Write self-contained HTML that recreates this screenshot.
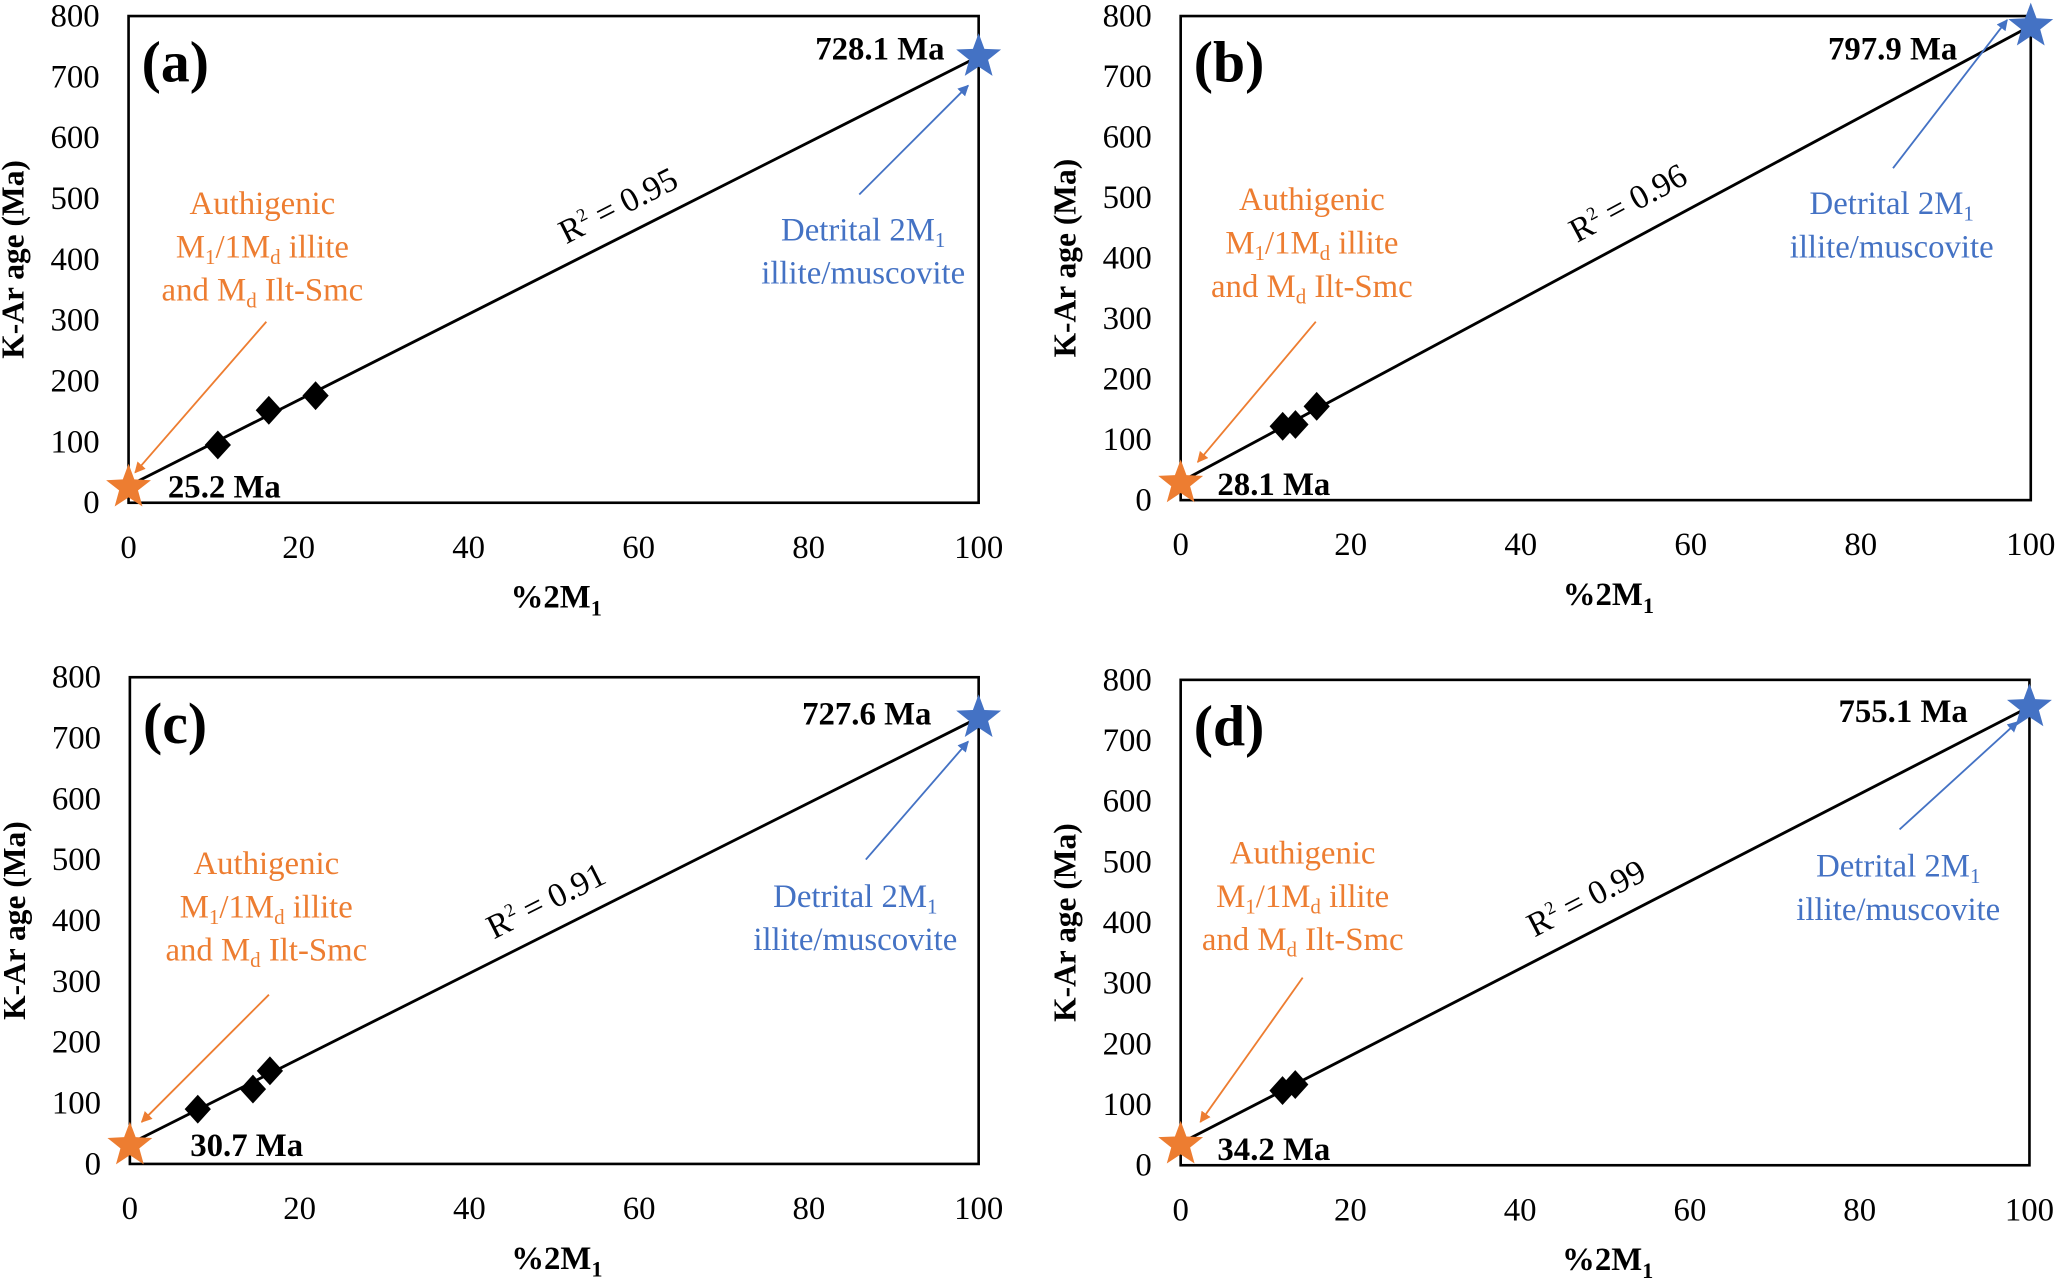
<!DOCTYPE html>
<html><head><meta charset="utf-8"><style>
html,body{margin:0;padding:0;background:#fff;}
svg{display:block;font-family:"Liberation Serif",serif;}
</style></head><body>
<svg id="fig" width="2057" height="1281" viewBox="0 0 1568 976" xmlns="http://www.w3.org/2000/svg"></svg>
<script>
const panelLetters = ["(a)","(b)","(c)","(d)"];
const pointsX = [[10.5,16.5,22],[12,13.5,16],[8,14.5,16.5],[12,13.5]];
const pointsY = [[95,152,176],[122,125,155],[90,123,153],[123,133]];
const authAge = [25.2,28.1,30.7,34.2];
const detrAge = [728.1,797.9,727.6,755.1];
const detrStarY = [733,783,733,755];
const r2Values = ["0.95","0.96","0.91","0.99"];
const xTicks = [0,20,40,60,80,100];
const yTicks = [0,100,200,300,400,500,600,700,800];

const boxes = [{x0:98,x1:746,y0:12,y1:383},{x0:900,x1:1548,y0:12,y1:381},{x0:99,x1:746,y0:516,y1:887},{x0:900,x1:1547,y0:518,y1:888}];
const layout = [
 {age:[720,36],low:[128,370],r2:[475,160],or:[200,155],bl:[658,175],oa:[203,245,103,360],ba:[655,148,738,65]},
 {age:[1492,36],low:[928,368],r2:[1245,158],or:[1000,152],bl:[1442,155],oa:[1003,245,913,352],ba:[1443,128,1530,15]},
 {age:[710,543],low:[145,872],r2:[420,690],or:[203,658],bl:[652,683],oa:[205,758,108,855],ba:[660,655,738,565]},
 {age:[1500,541],low:[928,875],r2:[1213,688],or:[993,650],bl:[1447,660],oa:[993,745,915,855],ba:[1448,632,1538,550]}
];
const NS="http://www.w3.org/2000/svg";
const svg=document.getElementById('fig');
const defs=document.createElementNS(NS,'defs');
defs.innerHTML='<marker id="ao" viewBox="0 0 10 10" refX="9" refY="5" markerWidth="6" markerHeight="6" orient="auto"><path d="M0,0L10,5L0,10z" fill="#ED7D31"/></marker><marker id="ab" viewBox="0 0 10 10" refX="9" refY="5" markerWidth="6" markerHeight="6" orient="auto"><path d="M0,0L10,5L0,10z" fill="#4472C4"/></marker>';
svg.appendChild(defs);
function el(tag,attrs,parent){const e=document.createElementNS(NS,tag);for(const k in attrs)e.setAttribute(k,attrs[k]);(parent||svg).appendChild(e);return e;}
function star(cx,cy,r){let p=[];for(let i=0;i<10;i++){const a=-Math.PI/2+i*Math.PI/5;const rr=i%2?r*0.42:r;p.push((cx+rr*Math.cos(a)).toFixed(1)+','+(cy+rr*Math.sin(a)).toFixed(1));}return p.join(' ');}

boxes.forEach((b,i)=>{
 const L=layout[i];
 const g=el('g',{});
 
 
 const sx=v=>b.x0+(b.x1-b.x0)*v/100;
 const sy=v=>b.y1-(b.y1-b.y0)*v/800;
 const r=el('rect',{x:b.x0,y:b.y0,width:b.x1-b.x0,height:b.y1-b.y0,fill:'none',stroke:'#000','stroke-width':2},g);
 
 
 yTicks.forEach(t=>{const e=el('text',{x:b.x0-22,y:sy(t)+8,'text-anchor':'end','font-size':25},g);e.textContent=t;
  
  });
 xTicks.forEach(t=>{const e=el('text',{x:sx(t),y:b.y1+42,'text-anchor':'middle','font-size':25},g);e.textContent=t;
  
  });
 const yt=el('text',{transform:`translate(${b.x0-80},${(b.y0+b.y1)/2}) rotate(-90)`,'text-anchor':'middle','font-size':24,'font-weight':'bold'},g);
 yt.textContent='K-Ar age (Ma)';
 
 
 const xt=el('text',{x:(b.x0+b.x1)/2+2,y:b.y1+80,'text-anchor':'middle','font-size':25,'font-weight':'bold'},g);
 xt.innerHTML='%2M<tspan font-size="17" dy="6">1</tspan>';
 
 
 const ln=el('line',{x1:sx(0.5),y1:sy(authAge[i]+6),x2:sx(99.5),y2:sy(detrStarY[i]-3),stroke:'#000','stroke-width':2.2},g);
 
 
 pointsX[i].forEach((px,j)=>{const cx=sx(px),cy=sy(pointsY[i][j]);
  const d=el('polygon',{points:`${cx},${cy-11} ${cx+10},${cy} ${cx},${cy+11} ${cx-10},${cy}`,fill:'#000'},g);
  
  });
 const so=el('polygon',{points:star(sx(0),sy(authAge[i]),18),fill:'#ED7D31'},g);
 
 
 const sb=el('polygon',{points:star(sx(100),sy(detrStarY[i]),18),fill:'#4472C4'},g);
 
 
 const pl=el('text',{x:b.x0+10,y:b.y0+50,'font-size':44,'font-weight':'bold'},g);pl.textContent=panelLetters[i];
 
 
 const ha=el('text',{x:L.age[0],y:L.age[1]+9,'text-anchor':'end','font-size':25,'font-weight':'bold'},g);ha.textContent=detrAge[i].toFixed(1)+' Ma';
 
 
 const la=el('text',{x:L.low[0],y:L.low[1]+9,'font-size':25,'font-weight':'bold'},g);la.textContent=authAge[i].toFixed(1)+' Ma';
 
 
 const ang=Math.atan2(sy(detrStarY[i])-sy(authAge[i]),sx(100)-sx(0))*180/Math.PI;
 const rt=el('text',{transform:`translate(${L.r2[0]},${L.r2[1]+4}) rotate(${ang.toFixed(1)})`,'text-anchor':'middle','font-size':26},g);
 rt.innerHTML='R<tspan font-size="14" dy="-10">2</tspan><tspan dy="10"> = '+r2Values[i]+'</tspan>';
 
 
 const ot=el('text',{x:L.or[0],y:L.or[1]+8,'text-anchor':'middle','font-size':25,fill:'#ED7D31'},g);
 ot.innerHTML=`<tspan x="${L.or[0]}">Authigenic</tspan><tspan x="${L.or[0]}" dy="33">M<tspan font-size="16" dy="5">1</tspan><tspan dy="-5">/1M</tspan><tspan font-size="16" dy="5">d</tspan><tspan dy="-5"> illite</tspan></tspan><tspan x="${L.or[0]}" dy="33">and M<tspan font-size="16" dy="5">d</tspan><tspan dy="-5"> Ilt-Smc</tspan></tspan>`;
 
 
 const bt=el('text',{x:L.bl[0],y:L.bl[1]+8,'text-anchor':'middle','font-size':25,fill:'#4472C4'},g);
 bt.innerHTML=`<tspan x="${L.bl[0]}">Detrital 2M<tspan font-size="16" dy="5">1</tspan></tspan><tspan x="${L.bl[0]}" dy="28">illite/muscovite</tspan>`;
 
 
 const oa=el('line',{x1:L.oa[0],y1:L.oa[1],x2:L.oa[2],y2:L.oa[3],stroke:'#ED7D31','stroke-width':1.4,'marker-end':'url(#ao)'},g);
 
 
 const ba=el('line',{x1:L.ba[0],y1:L.ba[1],x2:L.ba[2],y2:L.ba[3],stroke:'#4472C4','stroke-width':1.4,'marker-end':'url(#ab)'},g);
 
 
});
</script>
</body></html>
